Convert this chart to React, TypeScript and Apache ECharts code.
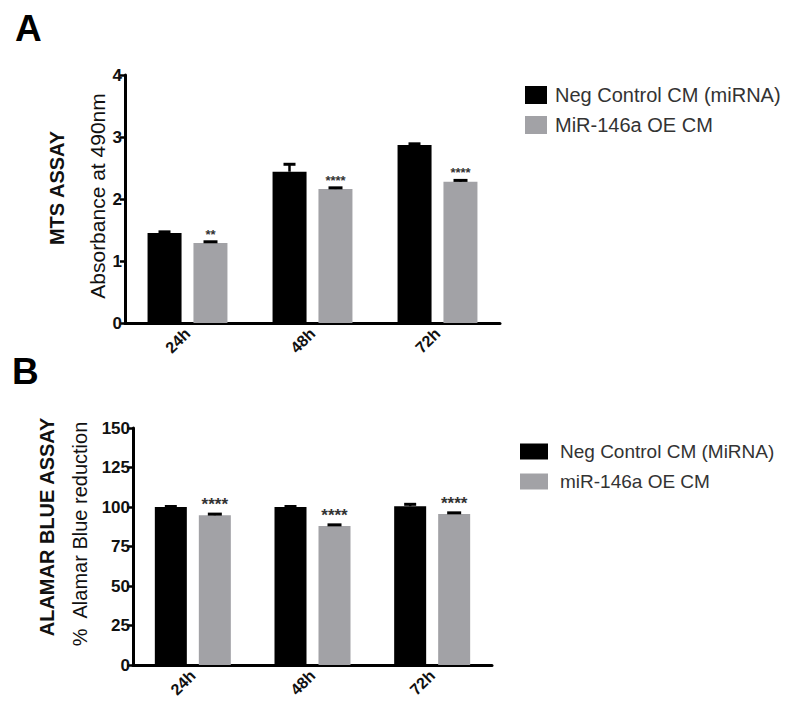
import { useEffect, useRef } from "react";
import * as echarts from "echarts";

const categories = ["24h", "48h", "72h"];

// Panel A: MTS assay (absorbance at 490nm)
const mtsNegName = "Neg Control CM (miRNA)";
const mtsOeName = "MiR-146a OE CM";
const mtsNeg = [1.45, 2.44, 2.87];
const mtsNegErr = [0.02, 0.12, 0.02];
const mtsOe = [1.29, 2.16, 2.28];
const mtsOeErr = [0.02, 0.02, 0.02];
const mtsSig = ["**", "****", "****"];
const mtsTicks = { min: 0, max: 4, interval: 1 };

// Panel B: Alamar blue assay (% reduction)
const abNegName = "Neg Control CM (MiRNA)";
const abOeName = "miR-146a OE CM";
const abNeg = [100, 100, 100.5];
const abNegErr = [0.3, 0.3, 1.2];
const abOe = [94.8, 88, 95.6];
const abOeErr = [0.7, 0.7, 0.7];
const abSig = ["****", "****", "****"];
const abTicks = { min: 0, max: 150, interval: 25 };

const FONT = '"Liberation Sans", Arial, Helvetica, sans-serif';
const BLACK = "#000000";
const GRAY = "#a2a2a6";

function errorSeries(
  gridIdx: number,
  values: number[],
  errs: number[],
  offset: number,
  capW: number,
  sig: string[] | null,
  sigSize: number,
  sigGap: number
) {
  return {
    type: "custom",
    xAxisIndex: gridIdx,
    yAxisIndex: gridIdx,
    z: 5,
    silent: true,
    data: values.map((v, i) => [i, v, errs[i]]),
    encode: { x: 0, y: 1 },
    renderItem: (params: any, api: any) => {
      const i = api.value(0);
      const v = api.value(1);
      const e = api.value(2);
      const base = api.coord([i, v]);
      const top = api.coord([i, v + e]);
      const x = base[0] + offset;
      const children: any[] = [
        {
          type: "line",
          shape: { x1: x, y1: base[1], x2: x, y2: top[1] },
          style: { stroke: "#000", lineWidth: 2.5 },
        },
        {
          type: "line",
          shape: { x1: x - capW / 2, y1: top[1], x2: x + capW / 2, y2: top[1] },
          style: { stroke: "#000", lineWidth: 3 },
        },
      ];
      if (sig) {
        children.push({
          type: "text",
          x: x,
          y: top[1] - sigGap,
          style: {
            text: sig[params.dataIndex],
            fontSize: sigSize,
            fontWeight: "bold",
            fontFamily: FONT,
            fill: "#333",
            textAlign: "center",
            textVerticalAlign: "bottom",
          },
        });
      }
      return { type: "group", children };
    },
  };
}

function xAxisCfg(gridIndex: number) {
  return {
    type: "category",
    gridIndex,
    data: categories,
    axisLine: { lineStyle: { color: "#000", width: 3 } },
    axisTick: { alignWithLabel: true, length: 6, lineStyle: { color: "#000", width: 2.5 } },
    axisLabel: {
      rotate: 45,
      fontSize: 16,
      fontWeight: "bold",
      fontFamily: FONT,
      color: "#111",
      margin: 8,
    },
  };
}

function yAxisCfg(gridIndex: number, t: { min: number; max: number; interval: number }, tickLen: number) {
  return {
    type: "value",
    gridIndex,
    min: t.min,
    max: t.max,
    interval: t.interval,
    axisLine: { show: true, lineStyle: { color: "#000", width: 3 } },
    axisTick: { show: true, length: tickLen, lineStyle: { color: "#000", width: 2.5 } },
    splitLine: { show: false },
    axisLabel: {
      fontSize: 17,
      fontWeight: "bold",
      fontFamily: FONT,
      color: "#111",
      margin: 3,
    },
  };
}

function rotatedText(x: number, y: number, text: string, size: number, weight: string) {
  return {
    type: "text",
    x,
    y,
    rotation: Math.PI / 2,
    style: {
      text,
      fontSize: size,
      fontWeight: weight,
      fontFamily: FONT,
      fill: "#111",
      textAlign: "center",
      textVerticalAlign: "middle",
    },
  };
}

export default function App() {
  const ref = useRef<HTMLDivElement>(null);
  useEffect(() => {
    const chart = echarts.init(ref.current!, null, { renderer: "svg" });
    const option: any = {
      animation: false,
      backgroundColor: "#ffffff",
      textStyle: { fontFamily: FONT },
      grid: [
        { left: 125, top: 75, width: 375, height: 248 },
        { left: 133, top: 428, width: 359, height: 237 },
      ],
      xAxis: [xAxisCfg(0), xAxisCfg(1)],
      yAxis: [yAxisCfg(0, mtsTicks, 5), yAxisCfg(1, abTicks, 6)],
      legend: [
        {
          data: [mtsNegName, mtsOeName],
          orient: "vertical",
          left: 520,
          top: 80,
          itemWidth: 22,
          itemHeight: 18,
          itemGap: 10,
          icon: "rect",
          selectedMode: false,
          textStyle: { fontSize: 20, color: "#333", fontFamily: FONT, padding: [0, 0, 0, 3] },
        },
        {
          data: [abNegName, abOeName],
          orient: "vertical",
          left: 515,
          top: 437,
          itemWidth: 28,
          itemHeight: 16,
          itemGap: 11,
          icon: "rect",
          selectedMode: false,
          textStyle: { fontSize: 19, color: "#333", fontFamily: FONT, padding: [0, 0, 0, 7] },
        },
      ],
      graphic: [
        {
          type: "text",
          left: 15,
          top: 10,
          style: { text: "A", fontSize: 37, fontWeight: "bold", fontFamily: FONT, fill: "#000" },
        },
        {
          type: "text",
          left: 12,
          top: 353,
          style: { text: "B", fontSize: 37, fontWeight: "bold", fontFamily: FONT, fill: "#000" },
        },
        rotatedText(57, 188, "MTS ASSAY", 20, "bold"),
        rotatedText(97, 196, "Absorbance at 490nm", 21, "normal"),
        rotatedText(47, 527, "ALAMAR BLUE ASSAY", 20, "bold"),
        rotatedText(80, 534, "%  Alamar Blue reduction", 20, "normal"),
      ],
      series: [
        {
          name: mtsNegName,
          type: "bar",
          xAxisIndex: 0,
          yAxisIndex: 0,
          data: mtsNeg,
          barWidth: 34,
          barGap: "35%",
          itemStyle: { color: BLACK },
        },
        {
          name: mtsOeName,
          type: "bar",
          xAxisIndex: 0,
          yAxisIndex: 0,
          data: mtsOe,
          barWidth: 34,
          barGap: "35%",
          itemStyle: { color: GRAY },
        },
        {
          name: abNegName,
          type: "bar",
          xAxisIndex: 1,
          yAxisIndex: 1,
          data: abNeg,
          barWidth: 32,
          barGap: "37.5%",
          itemStyle: { color: BLACK },
        },
        {
          name: abOeName,
          type: "bar",
          xAxisIndex: 1,
          yAxisIndex: 1,
          data: abOe,
          barWidth: 32,
          barGap: "37.5%",
          itemStyle: { color: GRAY },
        },
        errorSeries(0, mtsNeg, mtsNegErr, -23, 12, null, 13, 0),
        errorSeries(0, mtsOe, mtsOeErr, 23, 14, mtsSig, 13, 1),
        errorSeries(1, abNeg, abNegErr, -22, 12, null, 16, 0),
        errorSeries(1, abOe, abOeErr, 22, 14, abSig, 17, 1),
      ],
    };
    chart.setOption(option);
    return () => chart.dispose();
  }, []);
  return (
    <div
      ref={ref}
      style={{ position: "fixed", left: 0, top: 0, width: 793, height: 718, background: "#fff" }}
    />
  );
}
